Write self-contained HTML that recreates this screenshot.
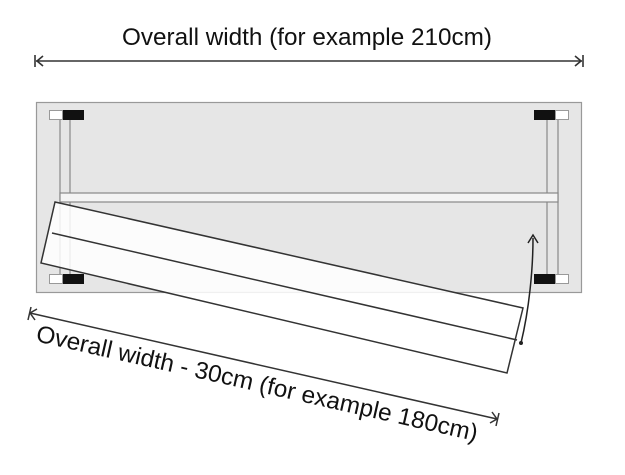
<!DOCTYPE html>
<html><head><style>body{margin:0;background:#fff}</style></head>
<body>
<svg width="625" height="470" xmlns="http://www.w3.org/2000/svg" font-family="Liberation Sans, sans-serif">
<rect width="625" height="470" fill="#fff"/>
<text x="307" y="45" font-size="24" text-anchor="middle" fill="#111" textLength="370" lengthAdjust="spacingAndGlyphs">Overall width (for example 210cm)</text>
<g stroke="#333" stroke-width="1.6" fill="none">
<line x1="36" y1="61" x2="582" y2="61"/>
<polyline points="43,56 37,61 43,66"/><line x1="35" y1="55" x2="35" y2="67"/>
<polyline points="575,56 581,61 575,66"/><line x1="583" y1="55" x2="583" y2="67"/>
</g>
<rect x="36.5" y="102.5" width="545" height="190" fill="#e6e6e6" stroke="#999" stroke-width="1.2"/>
<g stroke="#888" stroke-width="1.2" fill="none">
<line x1="60" y1="120" x2="60" y2="280"/><line x1="70" y1="120" x2="70" y2="280"/>
<line x1="547" y1="120" x2="547" y2="280"/><line x1="558" y1="120" x2="558" y2="280"/>
</g>
<rect x="60" y="193" width="498" height="9" fill="#f4f4f4" stroke="#888" stroke-width="1.2"/>
<g stroke="#999" stroke-width="1">
<rect x="49.5" y="110.5" width="13" height="9" fill="#fff"/>
<rect x="49.5" y="274.5" width="13" height="9" fill="#fff"/>
<rect x="555.5" y="110.5" width="13" height="9" fill="#fff"/>
<rect x="555.5" y="274.5" width="13" height="9" fill="#fff"/>
</g>
<rect x="63" y="110" width="21" height="10" fill="#111"/>
<rect x="63" y="274" width="21" height="10" fill="#111"/>
<rect x="534" y="110" width="21" height="10" fill="#111"/>
<rect x="534" y="274" width="21" height="10" fill="#111"/>
<polygon points="55,202 523,308 507,373 41,263" fill="#fff" fill-opacity="0.85" stroke="#333" stroke-width="1.5"/>
<line x1="52" y1="233" x2="517" y2="340" stroke="#333" stroke-width="1.5"/>
<path d="M521,343 C529,310 533,270 533,238" stroke="#222" stroke-width="1.5" fill="none"/>
<polyline points="528,243 533,235 538,243" stroke="#222" stroke-width="1.5" fill="none"/>
<circle cx="521" cy="343" r="2" fill="#222"/>
<g stroke="#333" stroke-width="1.5" fill="none">
<line x1="30" y1="313" x2="497" y2="419"/>
<polyline points="37,309 30,313 35,320"/><line x1="31" y1="307" x2="28" y2="320"/>
<polyline points="492,412 497,419 490,423"/><line x1="499" y1="413" x2="496" y2="426"/>
</g>
<text transform="translate(35,341) rotate(12.8)" font-size="24" fill="#111" textLength="452" lengthAdjust="spacingAndGlyphs">Overall width - 30cm (for example 180cm)</text>
</svg>
</body></html>
